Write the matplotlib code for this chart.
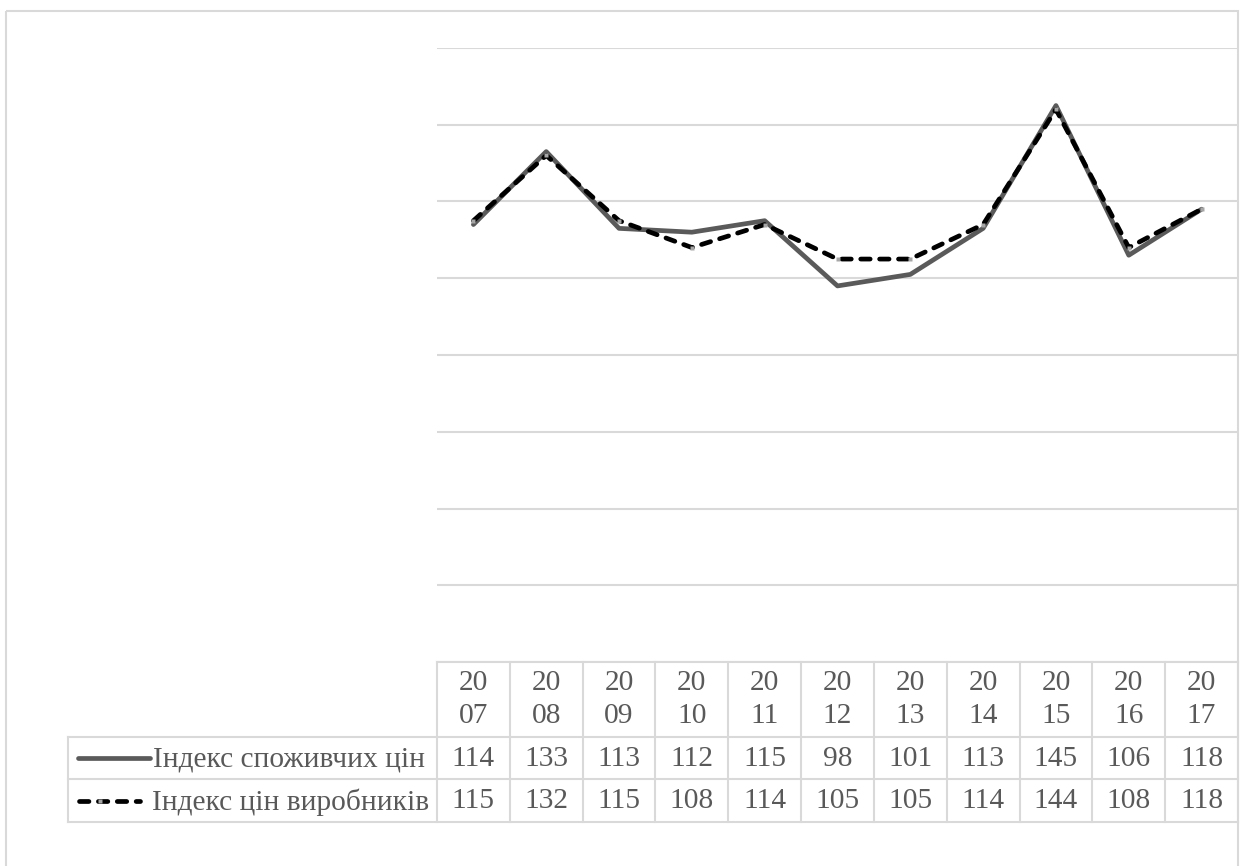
"""
Лінійний графік індексів цін (2007-2017) з таблицею даних під віссю, як в Excel.
"""

import matplotlib.pyplot as plt
from matplotlib.lines import Line2D
from matplotlib.patches import Rectangle
from matplotlib.transforms import blended_transform_factory

years = ["2007", "2008", "2009", "2010", "2011", "2012", "2013", "2014", "2015", "2016", "2017"]
cpi = [114, 133, 113, 112, 115, 98, 101, 113, 145, 106, 118]
ppi = [115, 132, 115, 108, 114, 105, 105, 114, 144, 108, 118]
series_names = ["Індекс споживчих цін", "Індекс цін виробників"]

W, H = 1241, 866
GRID = "#d9d9d9"
TXT = "#595959"
CPI_COLOR = "#5a5a5a"
FONT = "Liberation Serif"
FS = 21.2
LW = 3.4
DASH = (0, (2.0, 2.0))

fig = plt.figure(figsize=(W / 100, H / 100), dpi=100)

# накладка у піксельних координатах для рамки й таблиці
over = fig.add_axes([0, 0, 1, 1])
over.set_xlim(0, W)
over.set_ylim(H, 0)
over.axis("off")

# --- область графіка ---
left, right, top, bottom = 437, 1238, 48, 662
ax = fig.add_axes([left / W, 1 - bottom / H, (right - left) / W, (bottom - top) / H])
ax.set_facecolor("none")
x = list(range(len(years)))
ax.set_xlim(-0.5, len(years) - 0.5)
ax.set_ylim(0, 160)
ax.set_yticks(range(0, 161, 20))
ax.grid(axis="y", color=GRID, linewidth=1.5)
ax.tick_params(left=False, bottom=False, labelleft=False, labelbottom=False)
for s in ax.spines.values():
    s.set_visible(False)

ax.plot(x, cpi, color=CPI_COLOR, linewidth=LW, solid_capstyle="round", solid_joinstyle="round", zorder=3)
ax.plot(x, ppi, color="black", linewidth=LW, linestyle=DASH, dash_capstyle="round",
        marker="s", markersize=3, markerfacecolor="#a6a6a6", markeredgecolor="none", zorder=4)

# --- рамка діаграми ---
over.add_patch(Rectangle((5.5, 11), 1232.5, 870, fill=False, edgecolor=GRID, linewidth=1.5))

# --- таблиця даних ---
tr = blended_transform_factory(ax.transData, over.transData)
row_top, row1, row2, row_end = 662, 737, 779, 822
lab_left = 68

over.add_line(Line2D([left, right], [row_top, row_top], color=GRID, linewidth=1.5))
for y in (row1, row2, row_end):
    over.add_line(Line2D([lab_left, right], [y, y], color=GRID, linewidth=1.5))
over.add_line(Line2D([lab_left, lab_left], [row1, row_end], color=GRID, linewidth=1.5))
for i in range(len(years) + 1):
    over.add_line(Line2D([i - 0.5, i - 0.5], [row_top, row_end], color=GRID, linewidth=1.5, transform=tr))

txt_kw = dict(fontfamily=FONT, fontsize=FS, color=TXT, va="center", ha="center")
for i, yr in enumerate(years):
    over.text(i, 683, yr[:2], transform=tr, **txt_kw)
    over.text(i, 716, yr[2:], transform=tr, **txt_kw)
    over.text(i, (row1 + row2) / 2 + 1, str(cpi[i]), transform=tr, **txt_kw)
    over.text(i, (row2 + row_end) / 2 + 1, str(ppi[i]), transform=tr, **txt_kw)

# підписи рядків з ключами легенди
over.add_line(Line2D([78, 150], [758, 758], color=CPI_COLOR, linewidth=LW, solid_capstyle="round"))
over.add_line(Line2D([79, 140], [801, 801], color="black", linewidth=LW,
                     linestyle=DASH, dash_capstyle="round"))
over.add_line(Line2D([100], [801], marker="s", markersize=3, markerfacecolor="#a6a6a6",
                     markeredgecolor="none", linestyle="none"))
over.text(153, 759, series_names[0], fontfamily=FONT, fontsize=FS, color=TXT, va="center", ha="left")
over.text(152, 802, series_names[1], fontfamily=FONT, fontsize=FS, color=TXT, va="center", ha="left")

fig.savefig("out.png", dpi=100)
